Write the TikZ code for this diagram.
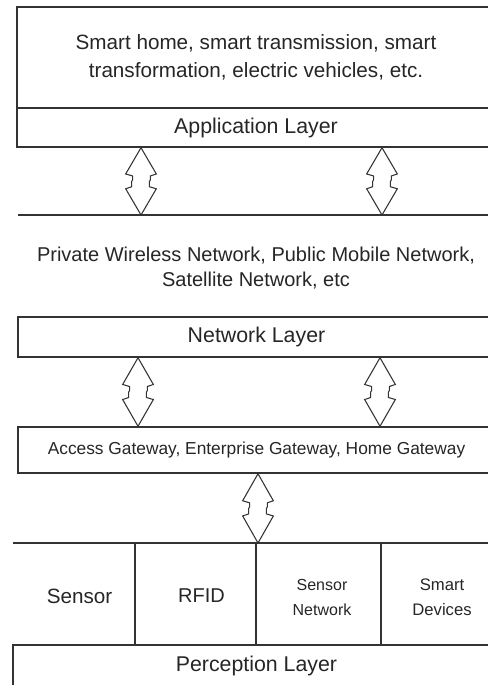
\documentclass[tikz,border=0pt]{standalone}
\usepackage{fontspec}
\setmainfont{Liberation Sans}
\usetikzlibrary{calc}

\definecolor{ink}{HTML}{262626}
\definecolor{rule}{HTML}{333333}

\tikzset{
  layerbox/.style={draw=rule, line width=1.1pt, fill=white, rectangle,
    inner sep=0pt, text=ink, align=center},
  rulepath/.style={draw=rule, line width=1.1pt},
  fat/.style={draw=rule, line width=0.8pt, fill=white, line join=miter},
  lbl/.style={text=ink, align=center, inner sep=0pt},
}

% hollow double-headed block arrow between two points (top, bottom)
\newcommand\dblarrow[2]{%
  \coordinate (dbl-t) at (#1);
  \coordinate (dbl-b) at (#2);
  \draw[fat] (dbl-t)
    -- ($(dbl-t)!0.39!(dbl-b)+(11.5pt,0)$)
    -- ($(dbl-t)!0.42!(dbl-b)+(7pt,0)$)
    -- ($(dbl-t)!0.48!(dbl-b)+(7pt,0)$)
    -- ($(dbl-t)!0.50!(dbl-b)+(6.3pt,0)$)
    -- ($(dbl-t)!0.58!(dbl-b)+(6.3pt,0)$)
    -- ($(dbl-t)!0.61!(dbl-b)+(11.5pt,0)$)
    -- (dbl-b)
    -- ($(dbl-t)!0.61!(dbl-b)+(-11.5pt,0)$)
    -- ($(dbl-t)!0.58!(dbl-b)+(-7pt,0)$)
    -- ($(dbl-t)!0.50!(dbl-b)+(-7pt,0)$)
    -- ($(dbl-t)!0.48!(dbl-b)+(-6.3pt,0)$)
    -- ($(dbl-t)!0.42!(dbl-b)+(-6.3pt,0)$)
    -- ($(dbl-t)!0.39!(dbl-b)+(-11.5pt,0)$)
    -- cycle;}

\begin{document}
\begin{tikzpicture}[x=0.75pt,y=-0.75pt]
\useasboundingbox (0,0) rectangle (488,685);
\clip (0,0) rectangle (488,685);
\fill[white] (0,0) rectangle (488,685);

% application layer
\node[layerbox, minimum width=358.5pt, minimum height=75.75pt,
      font=\fontsize{15.5}{21}\selectfont] (apps) at (256,57.5)
  {Smart home, smart transmission, smart\\transformation, electric vehicles, etc.};
\node[layerbox, minimum width=358.5pt, minimum height=29.25pt,
      font=\fontsize{16}{19}\selectfont] (applayer) at (256,127.5) {Application Layer};

% network layer
\coordinate (nl-w) at (18,215);
\coordinate (nl-e) at (500,215);
\draw[rulepath] (nl-w) -- (nl-e);
\node[lbl, font=\fontsize{15}{18.75}\selectfont] (nettypes) at (256,268)
  {Private Wireless Network, Public Mobile Network,\\Satellite Network, etc};
\node[layerbox, minimum width=357.75pt, minimum height=30pt,
      font=\fontsize{16}{19}\selectfont] (netlayer) at (256.5,337) {Network Layer};

% gateways
\node[layerbox, minimum width=357.75pt, minimum height=34.5pt,
      font=\fontsize{13}{16}\selectfont] (gateways) at (256.5,450)
  {Access Gateway, Enterprise Gateway, Home Gateway};

% perception layer
\coordinate (row-w) at (13,543);
\coordinate (row-e) at (500,543);
\draw[rulepath] (row-w) -- (row-e);
\node[layerbox, minimum width=365.25pt, minimum height=31.5pt,
      font=\fontsize{16}{19}\selectfont] (perception) at (256.5,666) {Perception Layer};

\coordinate (cut1) at (135,0);
\coordinate (cut2) at (256,0);
\coordinate (cut3) at (381,0);
\foreach \c in {cut1,cut2,cut3}
  \draw[rulepath] (row-w -| \c) -- (perception.north -| \c);

\node[lbl, font=\fontsize{15.5}{18}\selectfont] (sensor) at (79.5,596) {Sensor};
\node[lbl, font=\fontsize{15}{18}\selectfont] (rfid) at (201.5,596) {RFID};
\node[lbl, font=\fontsize{12}{18.75}\selectfont] (sensornet) at (322,597.5) {Sensor\\Network};
\node[lbl, font=\fontsize{12.5}{18.75}\selectfont] (smartdev) at (442,597.5) {Smart\\Devices};

% block arrows between the layers
\coordinate (ax1) at (141,0);
\coordinate (ax2) at (382,0);
\coordinate (bx1) at (138,0);
\coordinate (bx2) at (380,0);
\coordinate (cx)  at (258,0);
\dblarrow{applayer.south -| ax1}{nl-w -| ax1}
\dblarrow{applayer.south -| ax2}{nl-w -| ax2}
\dblarrow{netlayer.south -| bx1}{gateways.north -| bx1}
\dblarrow{netlayer.south -| bx2}{gateways.north -| bx2}
\dblarrow{gateways.south -| cx}{row-w -| cx}
\end{tikzpicture}
\end{document}
